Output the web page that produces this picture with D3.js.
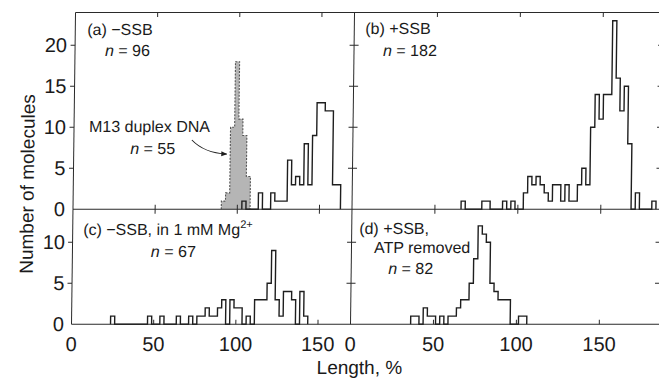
<!DOCTYPE html>
<html><head><meta charset="utf-8">
<script src="https://cdn.jsdelivr.net/npm/d3@7"></script>
<style>
body{margin:0;background:#fff}
text{font-family:"Liberation Sans",Arial,Helvetica,sans-serif;fill:#1a1a1a}
</style>
</head><body>
<svg id="chart" width="659" height="385"></svg>
<script>
// ---- data: histogram bin centres (length, %) and counts; bin width 2.5 ----
const binWidth = 2.5;
const aLengths = [104,114,121.5,124,126.5,129,131.5,134,136.5,139,141.5,144,146.5,149,151.5,154,156.5,159,161.5];
const aCounts  = [1,2,2,1,1,1,6,3,4,3,8,3,9,13,13,12,12,3,3];
const m13Lengths = [91.5,94,96.5,99,101.5,104,106.5];
const m13Counts  = [1,2,10,18,11,9,4];
const bLengths = [67,79.5,82,92,97,104.5,107,109.5,112,114.5,117,119.5,122,124.5,127,129.5,132,134.5,137,139.5,142,144.5,147,149.5,152,154.5,157,159.5,162,164.5,167,172,182];
const bCounts  = [1,1,1,1,1,2,4,3,4,3,2,1,3,3,1,3,1,1,3,5,3,10,14,11,14,14,23,16,12,15,8,2,1];
const cLengths = [25,47.5,55,65,72.5,77.5,80,82.5,85,87.5,90,92.5,97.5,100,102.5,107.5,112.5,115,117.5,120,122.5,125,127.5,130,132.5,135,140,142.5];
const cCounts  = [1,1,1,1,1,1,1,2,1,1,2,3,3,2,2,1,3,3,3,5,9,3,1,4,4,3,4,1];
const dLengths = [37.5,40,45,47.5,50,55,60,62.5,65,67.5,70,72.5,75,77.5,80,82.5,85,87.5,90,92.5,95,102.5,105];
const dCounts  = [1,1,2,1,1,1,1,1,2,3,3,5,8,12,11,10,5,4,3,3,3,1,1];
const xTicks = [0,50,100,150];
const yTicksTop = [0,5,10,15,20];
const yTicksBottom = [0,5,10];

const svg = d3.select("#chart");
const ink = "#1e1e1e";

// the scanned figure leans slightly: top is ~4px right of bottom
const lean = 0.0129;
const g = svg.append("g")
  .attr("transform", `translate(${lean*324},0) skewX(${-Math.atan(lean)*180/Math.PI})`);

// scales
const xLeft  = d3.scaleLinear().domain([0,169.8]).range([71.5,350.5]);
const xRight = d3.scaleLinear().domain([0,186]).range([350.5,659]);
const yTop    = d3.scaleLinear().domain([0,24]).range([209.3,12.5]);
const yBottom = d3.scaleLinear().domain([0,14]).range([324.3,209.5]);

function stepPoints(lengths, counts){
  const lo = d3.min(lengths), hi = d3.max(lengths);
  const map = new Map(lengths.map((l,i)=>[Math.round(l*10),counts[i]]));
  const pts = [[lo-binWidth/2,0]];
  const n = Math.round((hi-lo)/binWidth);
  for(let k=0;k<=n;k++){
    const c = lo + k*binWidth;
    const v = map.get(Math.round(c*10)) || 0;
    pts.push([c-binWidth/2,v]);
    pts.push([c+binWidth/2,v]);
  }
  pts.push([hi+binWidth/2,0]);
  return pts;
}
function drawHist(x, y, lengths, counts, opts){
  const pts = stepPoints(lengths, counts);
  if(opts.fill){
    const area = d3.area().x(d=>x(d[0])).y0(y(0)).y1(d=>y(d[1]));
    g.append("path").attr("d", area(pts)).attr("fill", opts.fill);
  }
  const line = d3.line().x(d=>x(d[0])).y(d=>y(d[1]));
  g.append("path").attr("d", line(pts)).attr("fill","none")
    .attr("stroke", opts.stroke || ink).attr("stroke-width", opts.width || 1.4)
    .attr("stroke-dasharray", opts.dash || null).attr("stroke-linejoin","miter");
}

drawHist(xLeft, yTop, m13Lengths, m13Counts, {fill:"#b5b5b5", stroke:"#555", dash:"2,1.4", width:1.1});
drawHist(xLeft, yTop, aLengths, aCounts, {});
drawHist(xRight, yTop, bLengths, bCounts, {});
drawHist(xLeft, yBottom, cLengths, cCounts, {});
drawHist(xRight, yBottom, dLengths, dCounts, {});

// frame
const frame = g.append("g").attr("stroke", "#2a2a2a").attr("stroke-width",1).attr("fill","none");
const L = 71.5, M = 350.5, R = 660;
[yTop(24), yTop(0), yBottom(0)].forEach(yy=>
  frame.append("line").attr("x1",L).attr("x2",R).attr("y1",yy).attr("y2",yy));
[L, M, R].forEach(xx=>
  frame.append("line").attr("x1",xx).attr("x2",xx).attr("y1",yTop(24)).attr("y2",yBottom(0)));

const tk = 4.5;
function yTickMarks(y, ticks){
  ticks.forEach(t=>{
    const yy = y(t);
    frame.append("line").attr("x1",L-tk).attr("x2",L).attr("y1",yy).attr("y2",yy);
    frame.append("line").attr("x1",M-tk).attr("x2",M+tk).attr("y1",yy).attr("y2",yy);
    frame.append("line").attr("x1",R-tk-1).attr("x2",R).attr("y1",yy).attr("y2",yy);
  });
}
yTickMarks(yTop, yTicksTop.filter(t=>t>0));
yTickMarks(yBottom, yTicksBottom.filter(t=>t>0));
[xLeft, xRight].forEach(x=>{
  xTicks.filter(t=>t>0).forEach(t=>{
    const xx = x(t);
    frame.append("line").attr("x1",xx).attr("x2",xx).attr("y1",yTop(24)).attr("y2",yTop(24)+tk);
    frame.append("line").attr("x1",xx).attr("x2",xx).attr("y1",yTop(0)-tk).attr("y2",yTop(0)+tk);
    frame.append("line").attr("x1",xx).attr("x2",xx).attr("y1",yBottom(0)-tk).attr("y2",yBottom(0));
  });
});

// tick labels
const tl = g.append("g").attr("font-size",20);
yTicksTop.forEach(t=>tl.append("text").attr("x",63.5).attr("y",yTop(t)).attr("dy","0.36em").attr("text-anchor","end").text(t));
yTicksBottom.forEach(t=>tl.append("text").attr("x",64).attr("y",yBottom(t)).attr("dy","0.36em").attr("text-anchor","end").text(t));
[xLeft, xRight].forEach(x=>{
  xTicks.forEach(t=>tl.append("text").attr("x",x(t)).attr("y",351).attr("text-anchor","middle").text(t));
});

// axis titles
g.append("text").attr("x",360).attr("y",374).attr("text-anchor","middle").attr("font-size",19).text("Length, %");
g.append("text").attr("transform","translate(32,184) rotate(-90)").attr("text-anchor","middle").attr("font-size",19).text("Number of molecules");

// panel annotations
const ann = g.append("g").attr("font-size",16);
function nLabel(x,y,val){
  const t = ann.append("text").attr("x",x).attr("y",y);
  t.append("tspan").attr("font-style","italic").text("n");
  t.append("tspan").text(" = "+val);
}
ann.append("text").attr("x",83.5).attr("y",35).text("(a) \u2212SSB");
nLabel(101.5,56,"96");
ann.append("text").attr("x",86.5).attr("y",132).text("M13 duplex DNA");
nLabel(128,154,"55");
ann.append("text").attr("x",361.5).attr("y",34).text("(b) +SSB");
nLabel(379.5,56,"182");
const ct = ann.append("text").attr("x",82).attr("y",235);
ct.append("tspan").text("(c) \u2212SSB, in 1 mM Mg");
ct.append("tspan").attr("font-size",11).attr("dy",-7).text("2+");
nLabel(150,257,"67");
ann.append("text").attr("x",358).attr("y",234).text("(d) +SSB,");
ann.append("text").attr("x",373).attr("y",253).text("ATP removed");
nLabel(387.5,274,"82");

// arrow
svg.append("defs").append("marker").attr("id","ah").attr("viewBox","0 0 10 10")
  .attr("refX",9).attr("refY",5).attr("markerWidth",6).attr("markerHeight",6).attr("orient","auto")
  .append("path").attr("d","M0,1 L10,5 L0,9 Z").attr("fill",ink);
g.append("path").attr("d","M189.5,140 Q202,153 224.5,154").attr("fill","none").attr("stroke",ink)
  .attr("stroke-width",1).attr("marker-end","url(#ah)");
</script>
</body></html>
